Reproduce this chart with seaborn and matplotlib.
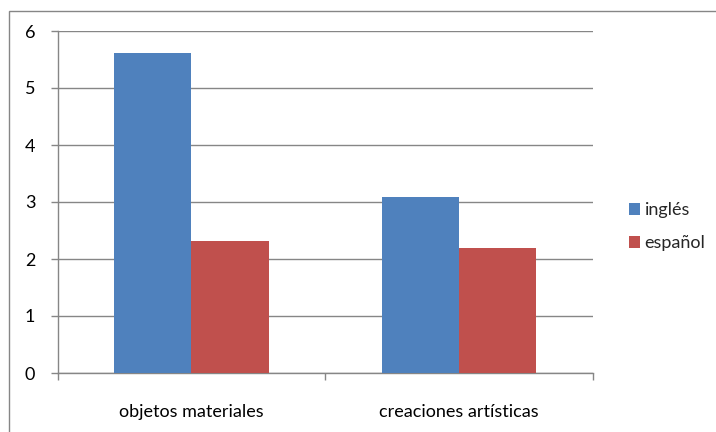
import matplotlib
matplotlib.use("Agg")
import matplotlib.pyplot as plt
from matplotlib.patches import Rectangle, Patch
import seaborn as sns
import pandas as pd

categories = ["objetos materiales", "creaciones artísticas"]
series_names = ["inglés", "español"]
ingles = [5.62, 3.08]
espanol = [2.32, 2.19]
y_ticks = [0, 1, 2, 3, 4, 5, 6]

colors = ["#4F81BD", "#C0504D"]
grid_color = "#868686"

df = pd.DataFrame({
    "categoria": categories * 2,
    "idioma": [series_names[0]] * 2 + [series_names[1]] * 2,
    "valor": ingles + espanol,
})

sns.set_theme(style="white")
plt.rcParams["font.family"] = ["Lato", "DejaVu Sans"]

fig = plt.figure(figsize=(7.16, 4.32), dpi=100)
ax = fig.add_axes([57.5 / 716, 1 - 373 / 432, (592.7 - 57.5) / 716, (373 - 31) / 432])

sns.barplot(data=df, x="categoria", y="valor", hue="idioma",
            palette=colors, saturation=1, width=0.577, gap=0, ax=ax,
            edgecolor="none", linewidth=0, errorbar=None, legend=False,
            zorder=3)

ax.set_xlim(-0.5, 1.5)
ax.set_ylim(0, 6)
ax.set_yticks(y_ticks)
ax.set_yticklabels([str(v) for v in y_ticks])
ax.yaxis.grid(True, color=grid_color, linewidth=1.0, zorder=0)
ax.set_axisbelow(True)

# category boundary ticks (unlabelled) and centred labels
ax.set_xticks([-0.5, 0.5, 1.5])
ax.set_xticklabels([])
ax.set_xticks([0, 1], minor=True)
ax.set_xticklabels(categories, minor=True)
ax.tick_params(axis="x", which="major", direction="out", length=5,
               color=grid_color, width=1, bottom=True)
ax.tick_params(axis="x", which="minor", length=0, pad=22, labelsize=13,
               labelcolor="black")
ax.tick_params(axis="y", direction="out", length=5, color=grid_color,
               width=1, left=True, pad=11, labelsize=13, labelcolor="black")

ax.set_xlabel("")
ax.set_ylabel("")
for side in ["top", "right"]:
    ax.spines[side].set_visible(False)
for side in ["left", "bottom"]:
    ax.spines[side].set_color(grid_color)
    ax.spines[side].set_linewidth(1.0)

handles = [Patch(facecolor=c, edgecolor="none", label=n)
           for c, n in zip(colors, series_names)]
fig.legend(handles=handles, loc="upper left",
           bbox_to_anchor=(622 / 716, 1 - 195 / 432),
           frameon=False, fontsize=13, handlelength=0.6, handleheight=0.6,
           handletextpad=0.25, labelspacing=0.95, borderaxespad=0)

# outer chart frame
fig.patches.append(Rectangle((9 / 716, -0.1), 1.2, 1 - 11 / 432 + 0.1,
                             transform=fig.transFigure, fill=False,
                             edgecolor=grid_color, linewidth=1.0))

fig.savefig("out.png", dpi=100)
